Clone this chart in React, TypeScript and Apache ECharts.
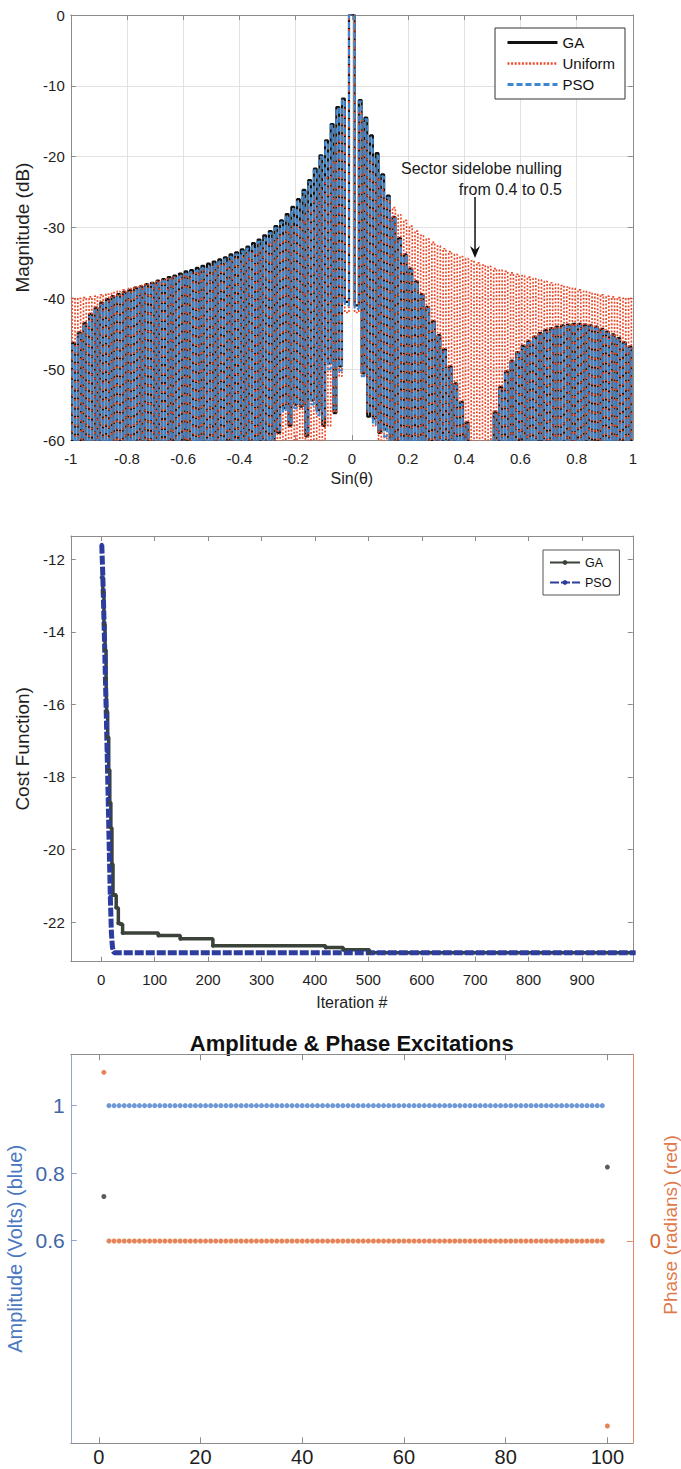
import React, { useEffect, useRef } from "react";
import * as echarts from "echarts";

const FONT = "'Liberation Sans', Arial, Helvetica, sans-serif";

// ---------- Panel 1 : array factor (dB) ----------
// Sidelobe peaks, left side u = -0.99 ... -0.03 (step 0.02), main lobe at u = 0, right side u = 0.03 ... 0.99
const GA_PEAKS_LEFT = [
  -46.3, -44.8, -43.5, -42.2, -41.3, -40.6, -40.1, -39.7, -39.4, -39.1,
  -38.8, -38.5, -38.3, -38.0, -37.8, -37.5, -37.3, -37.0, -36.8, -36.5,
  -36.2, -36.0, -35.7, -35.4, -35.1, -34.8, -34.5, -34.2, -33.8, -33.5,
  -33.1, -32.7, -32.2, -31.7, -31.1, -30.5, -29.8, -29.0, -28.1, -27.1,
  -26.0, -24.7, -23.3, -21.7, -19.8, -17.7, -15.4, -13.0, -11.8,
];
const GA_PEAKS_RIGHT = [
  -12.0, -14.5, -17.0, -19.5, -22.5, -25.5, -28.5, -31.5, -33.8, -35.8,
  -37.6, -39.4, -41.2, -43.2, -45.2, -47.2, -49.6, -52.0, -54.6, -57.5,
  -62.0, -68.0, -66.0, -60.5, -56.0, -52.5, -50.3, -48.8, -47.6, -46.7,
  -46.0, -45.4, -44.9, -44.5, -44.2, -44.0, -43.8, -43.7, -43.6, -43.6,
  -43.7, -43.8, -44.0, -44.3, -44.7, -45.1, -45.6, -46.2, -46.8,
];
const PSO_PEAKS_LEFT = [
  -46.6, -45.2, -43.9, -42.6, -41.7, -41.0, -40.5, -40.1, -39.8, -39.5,
  -39.2, -38.9, -38.6, -38.4, -38.1, -37.9, -37.6, -37.4, -37.1, -36.9,
  -36.6, -36.3, -36.1, -35.8, -35.5, -35.2, -34.9, -34.5, -34.2, -33.8,
  -33.4, -33.0, -32.6, -32.0, -31.5, -30.8, -30.1, -29.3, -28.4, -27.4,
  -26.3, -25.0, -23.6, -21.9, -20.0, -17.9, -15.6, -13.2, -12.0,
];
const PSO_PEAKS_RIGHT = [
  -12.2, -14.7, -17.3, -19.9, -22.8, -25.8, -28.8, -31.8, -34.1, -36.1,
  -37.9, -39.7, -41.5, -43.5, -45.5, -47.5, -49.9, -52.4, -55.0, -58.0,
  -63.0, -69.0, -67.0, -61.0, -56.5, -53.0, -50.7, -49.1, -47.9, -47.0,
  -46.3, -45.7, -45.2, -44.8, -44.5, -44.3, -44.1, -44.0, -43.9, -43.9,
  -44.0, -44.1, -44.3, -44.6, -45.0, -45.4, -45.9, -46.5, -47.1,
];
const UNIFORM_PEAKS_LEFT = [
  -40.0, -40.0, -39.9, -39.8, -39.7, -39.5, -39.4, -39.2, -39.0, -38.8,
  -38.6, -38.4, -38.2, -38.0, -37.8, -37.6, -37.4, -37.2, -37.0, -36.8,
  -36.6, -36.4, -36.2, -36.0, -35.8, -35.5, -35.3, -35.0, -34.7, -34.4,
  -34.1, -33.8, -33.4, -33.0, -32.6, -32.1, -31.6, -31.1, -30.5, -29.8,
  -29.0, -28.2, -27.2, -26.0, -24.7, -23.0, -20.8, -17.8, -13.3,
];
const UNIFORM_PEAKS_RIGHT = [
  -13.3, -17.8, -20.8, -23.0, -24.7, -26.0, -27.2, -28.2, -29.0, -29.8,
  -30.5, -31.1, -31.6, -32.1, -32.6, -33.0, -33.4, -33.8, -34.1, -34.4,
  -34.7, -35.0, -35.3, -35.5, -35.8, -36.0, -36.2, -36.4, -36.6, -36.8,
  -37.0, -37.2, -37.4, -37.6, -37.8, -38.0, -38.2, -38.4, -38.6, -38.8,
  -39.0, -39.2, -39.4, -39.5, -39.7, -39.8, -39.9, -40.0, -40.0,
];
const MAIN_LOBE_DB = 0;
// Nulls, left side u = -1.00 ... -0.02, right side u = 0.02 ... 1.00 (values below -60 fall off the axis)
const GA_NULLS_LEFT = [
  -75, -75, -75, -75, -75, -75, -75, -75, -75, -75,
  -75, -75, -75, -75, -75, -75, -75, -75, -75, -75,
  -75, -75, -75, -75, -75, -75, -75, -75, -75, -75,
  -75, -75, -75, -75, -75, -61, -60.5, -59, -55.5, -58,
  -55, -55.3, -59.5, -54.4, -55.8, -58, -49.2, -56.2, -49.6, -40.5,
];
const GA_NULLS_RIGHT = [
  -41, -50.6, -56.7, -57, -59, -58.5, -61, -75, -75, -75,
  -75, -75, -75, -75, -75, -75, -75, -75, -75, -75,
  -75, -75, -75, -75, -75, -75, -75, -75, -75, -75,
  -75, -75, -75, -75, -75, -75, -75, -75, -75, -75,
  -75, -75, -75, -75, -75, -75, -75, -75, -75, -75,
];
const PSO_NULLS_LEFT = [
  -75, -75, -75, -75, -75, -75, -75, -75, -75, -75,
  -75, -75, -75, -75, -75, -75, -75, -75, -75, -75,
  -75, -75, -75, -75, -75, -75, -75, -75, -75, -75,
  -75, -75, -75, -75, -75, -62, -60, -58.5, -56, -57.5,
  -55.5, -54.8, -58.8, -55, -56.5, -57, -50, -55.5, -50.2, -41,
];
const PSO_NULLS_RIGHT = [
  -41.5, -51, -56, -57.8, -58.5, -59.5, -60.5, -75, -75, -75,
  -75, -75, -75, -75, -75, -75, -75, -75, -75, -75,
  -75, -75, -75, -75, -75, -75, -75, -75, -75, -75,
  -75, -75, -75, -75, -75, -75, -75, -75, -75, -75,
  -75, -75, -75, -75, -75, -75, -75, -75, -75, -75,
];
const UNIFORM_NULLS_LEFT = [
  -75, -75, -75, -75, -75, -75, -75, -75, -75, -75,
  -75, -75, -75, -75, -75, -75, -75, -75, -75, -75,
  -75, -75, -75, -75, -75, -75, -75, -75, -75, -75,
  -75, -75, -75, -75, -75, -75, -75, -75, -75, -75,
  -75, -75, -75, -75, -75, -75, -58, -56, -51, -42,
];
const UNIFORM_NULLS_RIGHT = [
  -42, -51, -56, -58, -75, -75, -75, -75, -75, -75,
  -75, -75, -75, -75, -75, -75, -75, -75, -75, -75,
  -75, -75, -75, -75, -75, -75, -75, -75, -75, -75,
  -75, -75, -75, -75, -75, -75, -75, -75, -75, -75,
  -75, -75, -75, -75, -75, -75, -75, -75, -75, -75,
];
const SIN_TICKS = { min: -1, max: 1, interval: 0.2 };
const DB_TICKS = { min: -60, max: 0, interval: 10 };
const ANNOT_U = 0.4385;
const ANNOT_TAIL_DB = -25.7;
const ANNOT_TIP_DB = -34.3;

// ---------- Panel 2 : convergence ----------
const GA_ITER = [1, 3, 5, 7, 9, 10, 12, 14, 16, 18, 20, 22, 26, 28, 32, 36, 40, 107, 148, 209, 420, 453, 502, 1000];
const GA_COST = [-12.5, -12.9, -13.8, -14.5, -15.3, -16.2, -16.9, -17.8, -18.7, -19.4, -20.4, -21.25, -21.25, -21.6, -22.03, -22.05, -22.3, -22.37, -22.46, -22.65, -22.7, -22.76, -22.84, -22.84];
const PSO_ITER = [1, 3, 5, 7, 9, 11, 13, 15, 17, 19, 21, 24, 1000];
const PSO_COST = [-11.6, -12.5, -13.6, -14.8, -16.0, -17.3, -18.6, -20.0, -21.3, -22.3, -22.7, -22.84, -22.84];
const ITER_TICKS = [0, 100, 200, 300, 400, 500, 600, 700, 800, 900];
const COST_TICKS = [-22, -20, -18, -16, -14, -12];

// ---------- Panel 3 : excitations ----------
const ELEMENT_AMPLITUDE = [
  0.731, 1, 1, 1, 1, 1, 1, 1, 1, 1,
  1, 1, 1, 1, 1, 1, 1, 1, 1, 1,
  1, 1, 1, 1, 1, 1, 1, 1, 1, 1,
  1, 1, 1, 1, 1, 1, 1, 1, 1, 1,
  1, 1, 1, 1, 1, 1, 1, 1, 1, 1,
  1, 1, 1, 1, 1, 1, 1, 1, 1, 1,
  1, 1, 1, 1, 1, 1, 1, 1, 1, 1,
  1, 1, 1, 1, 1, 1, 1, 1, 1, 1,
  1, 1, 1, 1, 1, 1, 1, 1, 1, 1,
  1, 1, 1, 1, 1, 1, 1, 1, 1, 0.818,
];
const ELEMENT_PHASE = [
  1.687, 0, 0, 0, 0, 0, 0, 0, 0, 0,
  0, 0, 0, 0, 0, 0, 0, 0, 0, 0,
  0, 0, 0, 0, 0, 0, 0, 0, 0, 0,
  0, 0, 0, 0, 0, 0, 0, 0, 0, 0,
  0, 0, 0, 0, 0, 0, 0, 0, 0, 0,
  0, 0, 0, 0, 0, 0, 0, 0, 0, 0,
  0, 0, 0, 0, 0, 0, 0, 0, 0, 0,
  0, 0, 0, 0, 0, 0, 0, 0, 0, 0,
  0, 0, 0, 0, 0, 0, 0, 0, 0, 0,
  0, 0, 0, 0, 0, 0, 0, 0, 0, -1.85,
];
const ELEMENT_TICKS = [0, 20, 40, 60, 80, 100];
const AMP_TICKS = [0.6, 0.8, 1];
const PHASE_TICKS = [0];

// ---------- helpers ----------
const r3 = (v: number) => Math.round(v * 1000) / 1000;
function buildPattern(peaksL: number[], peaksR: number[], nullsL: number[], nullsR: number[]) {
  const out: number[][] = [];
  for (let i = 0; i < nullsL.length; i++) {
    out.push([r3(-1 + 0.02 * i), nullsL[i]]);
    if (i < peaksL.length) out.push([r3(-0.99 + 0.02 * i), peaksL[i]]);
  }
  out.push([0, MAIN_LOBE_DB]);
  for (let i = 0; i < nullsR.length; i++) {
    out.push([r3(0.02 + 0.02 * i), nullsR[i]]);
    if (i < peaksR.length) out.push([r3(0.03 + 0.02 * i), peaksR[i]]);
  }
  return out;
}
const zip = (a: number[], b: number[]) => a.map((v, i) => [v, b[i]]);

const AX = "#8c8c8c";
const TXT = "#1e1e1e";

function mirrorX(grid: number, min: number, max: number, ticks: any, tickLen: number) {
  return {
    gridIndex: grid, type: "value", position: "top", min, max,
    ...(ticks.interval ? { interval: ticks.interval } : {}),
    axisLine: { show: true, onZero: false, lineStyle: { color: AX, width: 1 } },
    axisTick: { show: true, inside: true, length: tickLen, lineStyle: { color: AX }, ...(ticks.customValues ? { customValues: ticks.customValues } : {}) },
    axisLabel: { show: false, ...(ticks.customValues ? { customValues: ticks.customValues } : {}) },
    splitLine: { show: false },
  };
}
function mirrorY(grid: number, min: number, max: number, ticks: any, tickLen: number) {
  return {
    gridIndex: grid, type: "value", position: "right", min, max,
    ...(ticks.interval ? { interval: ticks.interval } : {}),
    axisLine: { show: true, onZero: false, lineStyle: { color: AX, width: 1 } },
    axisTick: { show: true, inside: true, length: tickLen, lineStyle: { color: AX }, ...(ticks.customValues ? { customValues: ticks.customValues } : {}) },
    axisLabel: { show: false, ...(ticks.customValues ? { customValues: ticks.customValues } : {}) },
    splitLine: { show: false },
  };
}

export default function App() {
  const ref = useRef<HTMLDivElement>(null);
  useEffect(() => {
    document.body.style.margin = "0";
    const chart = echarts.init(ref.current!, null, { renderer: "svg" });

    const gridBase = { containLabel: false, outerBoundsMode: "none" };
    const option: any = {
      animation: false,
      textStyle: { fontFamily: FONT },
      grid: [
        { ...gridBase, left: 70.8, top: 15, width: 562, height: 425 },
        { ...gridBase, left: 70.8, top: 536, width: 562, height: 425.7 },
        { ...gridBase, left: 70.8, top: 1054.3, width: 562, height: 389 },
      ],
      legend: [
        {
          orient: "vertical", left: 495, top: 28,
          data: [
            { name: "GA", lineStyle: { width: 3 } },
            { name: "Uniform", lineStyle: { width: 2.4 } },
            { name: "PSO", lineStyle: { width: 3 } },
          ],
          itemWidth: 50, itemHeight: 14, itemGap: 6,
          padding: [7, 10, 7, 11],
          borderColor: "#333", borderWidth: 1, backgroundColor: "#fff",
          itemStyle: { opacity: 0 },
          textStyle: { fontSize: 15, color: "#111", fontFamily: FONT },
        },
        {
          orient: "vertical", left: 543, top: 550,
          data: ["GA cost", "PSO cost"],
          formatter: (n: string) => n.split(" ")[0],
          itemWidth: 30, itemHeight: 6, itemGap: 7,
          padding: [6, 8, 6, 6],
          borderColor: "#555", borderWidth: 1, backgroundColor: "#fff",
          textStyle: { fontSize: 12.5, color: "#111", fontFamily: FONT },
        },
      ],
      xAxis: [
        {
          gridIndex: 0, type: "value", min: SIN_TICKS.min, max: SIN_TICKS.max, interval: SIN_TICKS.interval,
          name: "Sin(θ)", nameLocation: "middle", nameGap: 30,
          nameTextStyle: { fontSize: 16, color: TXT, fontFamily: FONT },
          axisLine: { show: true, onZero: false, lineStyle: { color: AX } },
          axisTick: { inside: true, length: 5, lineStyle: { color: AX } },
          axisLabel: { fontSize: 15, color: TXT, margin: 11 },
          splitLine: { show: true, lineStyle: { color: "#e2e2e2" } },
        },
        mirrorX(0, SIN_TICKS.min, SIN_TICKS.max, { interval: SIN_TICKS.interval }, 5),
        {
          gridIndex: 1, type: "value", min: -57, max: 995,
          name: "Iteration #", nameLocation: "middle", nameGap: 33,
          nameTextStyle: { fontSize: 16, color: TXT, fontFamily: FONT },
          axisLine: { show: true, onZero: false, lineStyle: { color: AX } },
          axisTick: { inside: true, length: 5, lineStyle: { color: AX }, customValues: ITER_TICKS },
          axisLabel: { fontSize: 15, color: TXT, margin: 10, customValues: ITER_TICKS },
          splitLine: { show: false },
        },
        mirrorX(1, -57, 995, { customValues: ITER_TICKS }, 5),
        {
          gridIndex: 2, type: "value", min: -5.5, max: 105,
          axisLine: { show: true, onZero: false, lineStyle: { color: AX } },
          axisTick: { inside: true, length: 6, lineStyle: { color: AX }, customValues: ELEMENT_TICKS },
          axisLabel: { fontSize: 20, color: TXT, margin: 4, customValues: ELEMENT_TICKS },
          splitLine: { show: false },
        },
        mirrorX(2, -5.5, 105, { customValues: ELEMENT_TICKS }, 6),
      ],
      yAxis: [
        {
          gridIndex: 0, type: "value", min: DB_TICKS.min, max: DB_TICKS.max, interval: DB_TICKS.interval,
          name: "Magnitude (dB)", nameLocation: "middle", nameGap: 38, nameRotate: 90,
          nameTextStyle: { fontSize: 19, color: TXT, fontFamily: FONT },
          axisLine: { show: true, onZero: false, lineStyle: { color: AX } },
          axisTick: { show: true, inside: true, length: 5, lineStyle: { color: AX } },
          axisLabel: { fontSize: 15, color: TXT, margin: 6 },
          splitLine: { show: true, lineStyle: { color: "#e2e2e2" } },
        },
        mirrorY(0, DB_TICKS.min, DB_TICKS.max, { interval: DB_TICKS.interval }, 5),
        {
          gridIndex: 1, type: "value", min: -23.09, max: -11.36,
          name: "Cost Function)", nameLocation: "middle", nameGap: 31, nameRotate: 90,
          nameTextStyle: { fontSize: 19, color: TXT, fontFamily: FONT },
          axisLine: { show: true, onZero: false, lineStyle: { color: AX } },
          axisTick: { show: true, inside: true, length: 5, lineStyle: { color: AX }, customValues: COST_TICKS },
          axisLabel: { fontSize: 15, color: TXT, margin: 6, customValues: COST_TICKS },
          splitLine: { show: false },
        },
        mirrorY(1, -23.09, -11.36, { customValues: COST_TICKS }, 5),
        {
          gridIndex: 2, type: "value", min: 0, max: 1.152,
          name: "Amplitude (Volts) (blue)", nameLocation: "middle", nameGap: 46, nameRotate: 90,
          nameTextStyle: { fontSize: 20, color: "#4a78c0", fontFamily: FONT },
          axisLine: { show: true, onZero: false, lineStyle: { color: "#93a6cf" } },
          axisTick: { show: true, inside: true, length: 6, lineStyle: { color: "#93a6cf" }, customValues: AMP_TICKS },
          axisLabel: { fontSize: 21, color: "#3f66a8", margin: 6, customValues: AMP_TICKS },
          splitLine: { show: false },
        },
        {
          gridIndex: 2, type: "value", position: "right", min: -2.023, max: 1.867,
          axisLine: { show: true, onZero: false, lineStyle: { color: "#e3896a" } },
          axisTick: { show: true, inside: true, length: 6, lineStyle: { color: "#e3896a" }, customValues: PHASE_TICKS },
          axisLabel: { fontSize: 20, color: "#d9622b", margin: 17, customValues: PHASE_TICKS },
          splitLine: { show: false },
        },
      ],
      series: [
        {
          name: "GA", type: "line", xAxisIndex: 0, yAxisIndex: 0, symbol: "none", step: "middle",
          data: buildPattern(GA_PEAKS_LEFT, GA_PEAKS_RIGHT, GA_NULLS_LEFT, GA_NULLS_RIGHT),
          lineStyle: { color: "#111111", width: 2.2 }, itemStyle: { color: "#111111" },
        },
        {
          name: "Uniform", type: "line", xAxisIndex: 0, yAxisIndex: 0, symbol: "none", step: "middle",
          data: buildPattern(UNIFORM_PEAKS_LEFT, UNIFORM_PEAKS_RIGHT, UNIFORM_NULLS_LEFT, UNIFORM_NULLS_RIGHT),
          lineStyle: { color: "#ec4a2a", width: 1.7, type: [2, 1.6] }, itemStyle: { color: "#ec4a2a" },
        },
        {
          name: "PSO", type: "line", xAxisIndex: 0, yAxisIndex: 0, symbol: "none", step: "middle",
          data: buildPattern(PSO_PEAKS_LEFT, PSO_PEAKS_RIGHT, PSO_NULLS_LEFT, PSO_NULLS_RIGHT),
          lineStyle: { color: "#3e86cf", width: 2, type: [6, 3] }, itemStyle: { color: "#3e86cf" },
        },
        {
          name: "GA cost", type: "line", xAxisIndex: 2, yAxisIndex: 2, step: "end",
          symbol: "circle", symbolSize: 4,
          data: zip(GA_ITER, GA_COST),
          lineStyle: { color: "#3a4239", width: 3.5 }, itemStyle: { color: "#3a4239" },
        },
        {
          name: "PSO cost", type: "line", xAxisIndex: 2, yAxisIndex: 2,
          symbol: "circle", symbolSize: 4,
          data: zip(PSO_ITER, PSO_COST),
          lineStyle: { color: "#2c3d9e", width: 5, type: [9, 2] }, itemStyle: { color: "#2c3d9e" },
        },
        {
          name: "Amplitude", type: "scatter", xAxisIndex: 4, yAxisIndex: 4, symbolSize: 5,
          data: ELEMENT_AMPLITUDE.map((v, i) => ({
            value: [i + 1, v],
            itemStyle: { color: i === 0 || i === ELEMENT_AMPLITUDE.length - 1 ? "#333333" : "#4a7fcc" },
          })),
        },
        {
          name: "Phase", type: "scatter", xAxisIndex: 4, yAxisIndex: 5, symbolSize: 5,
          data: ELEMENT_PHASE.map((v, i) => [i + 1, v]),
          itemStyle: { color: "#e0652e" },
        },
      ],
    };
    chart.setOption(option);

    const tail = chart.convertToPixel({ xAxisIndex: 0, yAxisIndex: 0 }, [ANNOT_U, ANNOT_TAIL_DB]) as number[];
    const tip = chart.convertToPixel({ xAxisIndex: 0, yAxisIndex: 0 }, [ANNOT_U, ANNOT_TIP_DB]) as number[];
    chart.setOption({
      graphic: [
        {
          type: "text", x: 562, y: 168,
          style: { text: "Sector sidelobe nulling", font: `16px ${FONT}`, fill: "#1a1a1a", textAlign: "right", textVerticalAlign: "middle" },
        },
        {
          type: "text", x: 562, y: 189,
          style: { text: "from 0.4 to 0.5", font: `16px ${FONT}`, fill: "#1a1a1a", textAlign: "right", textVerticalAlign: "middle" },
        },
        {
          type: "line", shape: { x1: tail[0], y1: tail[1], x2: tip[0], y2: tip[1] - 8 },
          style: { stroke: "#111", lineWidth: 1.5 },
        },
        {
          type: "polygon",
          shape: { points: [[tip[0] - 5, tip[1] - 12], [tip[0], tip[1] - 8], [tip[0] + 5, tip[1] - 12], [tip[0], tip[1]]] },
          style: { fill: "#111" },
        },
        {
          type: "text", x: 351.8, y: 1043,
          style: { text: "Amplitude & Phase Excitations", font: `bold 22px ${FONT}`, fill: "#111", textAlign: "center", textVerticalAlign: "middle" },
        },
        {
          type: "text", x: 670, y: 1225, rotation: Math.PI / 2,
          style: { text: "Phase (radians) (red)", font: `19px ${FONT}`, fill: "#e07a4c", textAlign: "center", textVerticalAlign: "middle" },
        },
      ],
    });
    return () => chart.dispose();
  }, []);
  return <div ref={ref} style={{ width: 681, height: 1469 }} />;
}
